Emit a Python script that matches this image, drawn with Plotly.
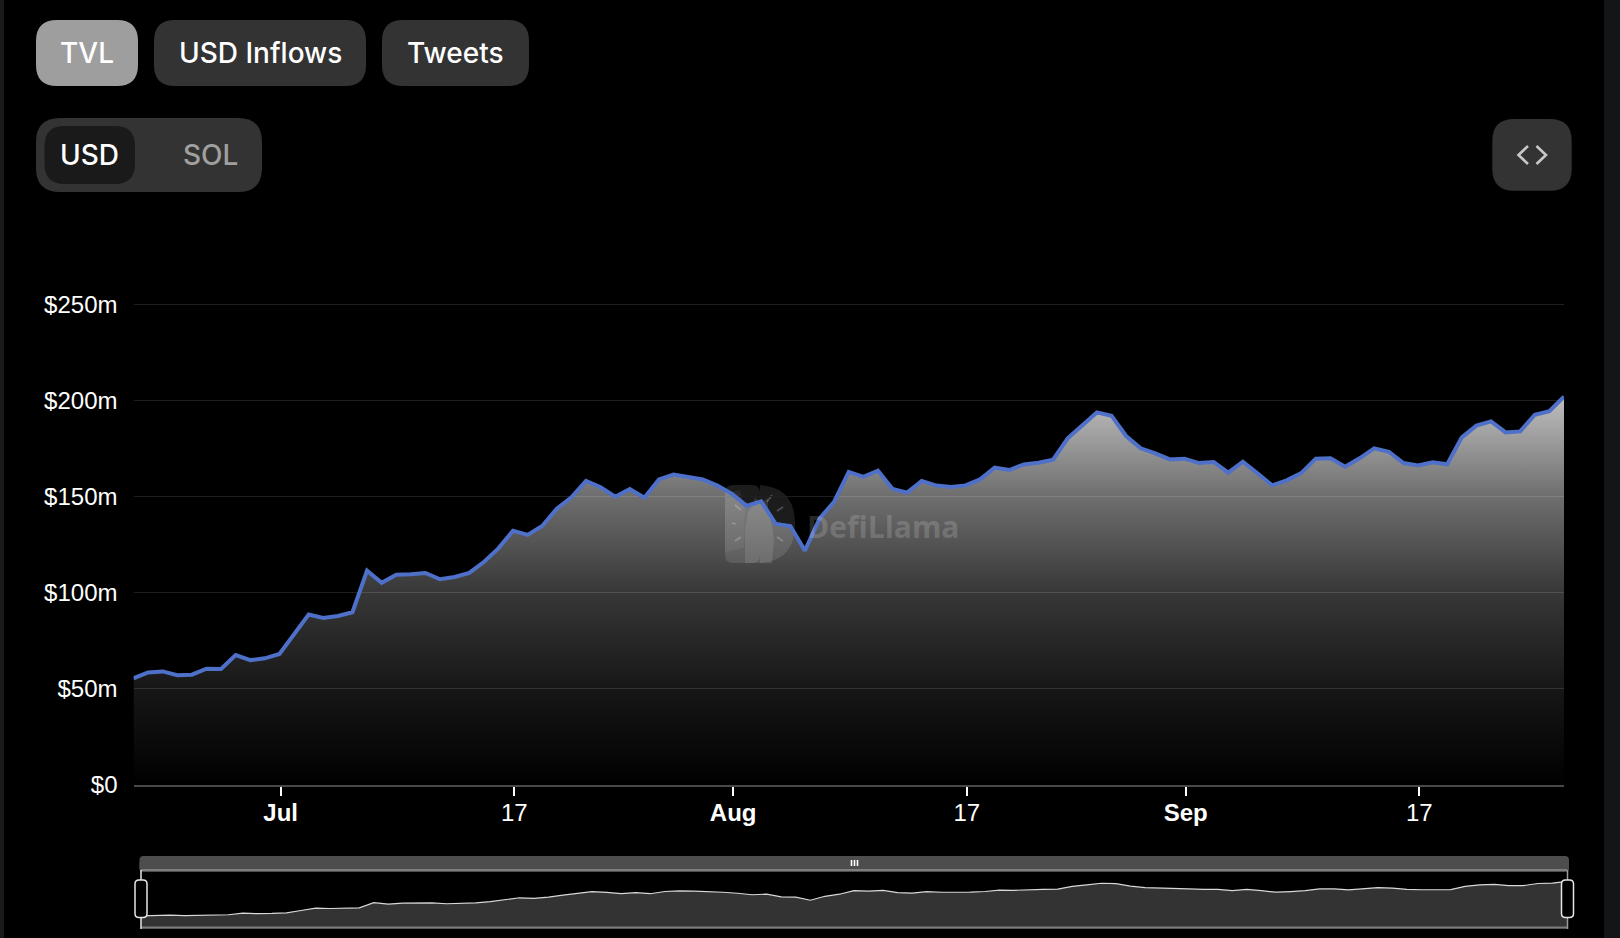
import pandas as pd
import plotly.graph_objects as go

W, H = 1620, 938

start_date = "2024-06-21"
tvl_musd = [
    55.4, 58.5, 59.0, 57.0, 57.3, 60.4, 60.3, 67.5, 64.9, 65.8,
    68.1, 78.5, 88.6, 86.8, 87.9, 89.8, 111.5, 105.2, 109.4, 109.6,
    110.3, 107.0, 108.2, 110.3, 116.0, 123.1, 132.3, 130.1, 134.7, 143.8,
    149.7, 158.2, 154.9, 150.0, 154.0, 149.5, 159.0, 161.5, 160.3, 159.0,
    155.8, 151.4, 145.2, 147.6, 135.8, 134.7, 121.9, 138.6, 147.4, 162.9,
    160.3, 163.6, 154.0, 152.1, 158.2, 155.8, 155.0, 155.9, 159.0, 165.1,
    163.9, 166.8, 167.7, 169.3, 180.4, 187.3, 193.9, 192.2, 181.6, 175.2,
    172.6, 169.4, 169.8, 167.5, 168.1, 162.5, 168.2, 162.2, 155.9, 158.5,
    162.3, 169.8, 170.0, 165.6, 170.0, 175.2, 173.4, 167.5, 166.3, 167.9,
    166.9, 180.9, 187.0, 189.2, 183.5, 184.0, 192.7, 194.5, 202.1,
]
dates = pd.date_range(start_date, periods=len(tvl_musd), freq="D")

y_ticks = [0, 50, 100, 150, 200, 250]
y_tick_labels = ["$0", "$50m", "$100m", "$150m", "$200m", "$250m"]
x_ticks = ["2024-07-01 02:00", "2024-07-17 02:00", "2024-08-01 02:00",
           "2024-08-17 02:00", "2024-09-01 02:00", "2024-09-17 02:00"]
x_tick_labels = ["<b>Jul</b>", "17", "<b>Aug</b>", "17", "<b>Sep</b>", "17"]


def px(x):
    return x / W


def py(y):
    return 1 - y / H


def rrect(x0, y0, x1, y1, r):
    """Rounded rectangle path in paper coordinates, given page pixels."""
    pts = [
        f"M{px(x0 + r)},{py(y0)}", f"L{px(x1 - r)},{py(y0)}",
        f"Q{px(x1)},{py(y0)} {px(x1)},{py(y0 + r)}", f"L{px(x1)},{py(y1 - r)}",
        f"Q{px(x1)},{py(y1)} {px(x1 - r)},{py(y1)}", f"L{px(x0 + r)},{py(y1)}",
        f"Q{px(x0)},{py(y1)} {px(x0)},{py(y1 - r)}", f"L{px(x0)},{py(y0 + r)}",
        f"Q{px(x0)},{py(y0)} {px(x0 + r)},{py(y0)}", "Z",
    ]
    return " ".join(pts)


def path(points, close=False):
    s = " ".join(("M" if i == 0 else "L") + f"{px(a)},{py(b)}" for i, (a, b) in enumerate(points))
    return s + (" Z" if close else "")


shapes, annos = [], []


def box(x0, y0, x1, y1, r, fill, line=None, lw=0, layer="above"):
    shapes.append(dict(type="path", path=rrect(x0, y0, x1, y1, r), xref="paper", yref="paper",
                       fillcolor=fill, line=dict(color=line or fill, width=lw), layer=layer))


def stroke(points, color, width, layer="above"):
    shapes.append(dict(type="path", path=path(points), xref="paper", yref="paper",
                       line=dict(color=color, width=width), layer=layer))


def label(x, y, text, size, color, family="Inter", anchor="center"):
    annos.append(dict(x=px(x), y=py(y), xref="paper", yref="paper", text=text, showarrow=False,
                      xanchor=anchor, yanchor="middle",
                      font=dict(family=family, size=size, color=color, weight=500)))


# side strips of the page
box(0, 0, 4, H, 0, "#1a1a1a")
box(1604, 0, W, H, 0, "#141516")

# buttons
box(36, 20, 138, 86, 21, "#9e9e9e")
box(154, 20, 366, 86, 21, "#333333")
box(382, 20, 529, 86, 21, "#333333")
label(87, 53, "TVL", 28, "#ffffff")
label(260, 53, "USD Inflows", 28, "#ffffff")
label(455.5, 53, "Tweets", 28, "#ffffff")
box(36, 118, 262, 192, 24, "#333333")
box(44.5, 126, 135, 184, 20, "#1a1a1a")
label(89.5, 155, "USD", 28, "#ffffff")
label(210.5, 155, "SOL", 28, "#a0a0a0")
box(1492.3, 119, 1571.7, 190.7, 22, "#333333")
stroke([(1528, 146), (1518.5, 155), (1528, 164)], "#c8c8c8", 2.6)
stroke([(1536.5, 146), (1546, 155), (1536.5, 164)], "#c8c8c8", 2.6)

# watermark (sits under the series, above the black page)
WM = "rgba(255,255,255,0.11)"
box(725, 485, 760, 563, 8, WM, layer="below")
shapes.append(dict(type="path", xref="paper", yref="paper", layer="below",
                   path=f"M{px(760)},{py(485)} Q{px(795)},{py(487)} {px(795)},{py(524)} "
                        f"Q{px(795)},{py(561)} {px(760)},{py(563)} Z",
                   fillcolor=WM, line=dict(width=0)))
shapes.append(dict(type="path", xref="paper", yref="paper", layer="below",
                   path=path([(725, 493), (740, 490), (745, 510), (744, 548), (725, 552)], True),
                   fillcolor="rgba(255,255,255,0.06)", line=dict(width=0)))
shapes.append(dict(type="path", xref="paper", yref="paper", layer="below",
                   path=path([(745, 563), (745, 530), (748, 512), (753, 505), (755, 497), (760, 504),
                              (768, 498), (768, 510), (772, 525), (774, 540), (772, 563)], True),
                   fillcolor="rgba(255,255,255,0.11)", line=dict(width=0)))
for seg in ([(735, 505), (741, 510)], [(732, 523), (736, 524)], [(735, 541), (741, 537)],
            [(777, 511), (783, 507)], [(777, 537), (783, 541)], [(767, 502), (772, 495)]):
    stroke(seg, "rgba(255,255,255,0.22)", 1.8, layer="below")
annos.append(dict(x=px(805), y=py(526.5), xref="paper", yref="paper", text="<b>DefiLlama</b>", showarrow=False,
                  xanchor="left", yanchor="middle",
                  font=dict(family="Open Sans", size=30, color="rgba(255,255,255,0.17)")))

# navigator chrome
box(139.5, 856, 1569, 872, 4, "#4d4d4d")
box(139.5, 862, 1569, 869.5, 0, "#4d4d4d")
stroke([(141, 870), (1567, 870)], "#7d7d7d", 2)
stroke([(141, 927.5), (1567, 927.5)], "#7d7d7d", 2)
for gx in (851.5, 854.5, 857.5):
    stroke([(gx, 860), (gx, 866)], "#ffffff", 1.6)
stroke([(141, 870), (141, 929)], "#e6e6e6", 1.5)
stroke([(1567.5, 870), (1567.5, 929)], "#9a9a9a", 1.5)
box(135, 880, 147, 917.5, 4, "#000000", "#e6e6e6", 1.5)
box(1561.5, 880, 1573.5, 917.5, 4, "#000000", "#e6e6e6", 1.5)

fig = go.Figure()
fig.add_trace(go.Scatter(
    x=dates, y=tvl_musd, mode="lines", xaxis="x", yaxis="y",
    line=dict(color="#4f70c8", width=4, shape="linear"),
    fill="tozeroy",
    fillgradient=dict(type="vertical", colorscale=[
        [0, "rgba(255,255,255,0.0)"], [0.25, "rgba(255,255,255,0.09)"],
        [0.5, "rgba(255,255,255,0.22)"], [0.75, "rgba(255,255,255,0.44)"],
        [1, "rgba(255,255,255,0.75)"]]),
    hoverinfo="skip", showlegend=False,
))
fig.add_trace(go.Scatter(
    x=dates, y=tvl_musd, mode="lines", xaxis="x2", yaxis="y2",
    line=dict(color="#d8d8d8", width=1.2), fill="tozeroy", fillcolor="#333333",
    hoverinfo="skip", showlegend=False,
))

y_top = 252
axis_base_px, px_per_unit = 784.7, 96 / 50

fig.update_layout(
    template="none",
    width=W, height=H, margin=dict(l=0, r=0, t=0, b=0, pad=0),
    paper_bgcolor="#000000", plot_bgcolor="#000000", autosize=False,
    font=dict(family="Liberation Sans", color="#ffffff"),
    shapes=shapes, annotations=annos,
    xaxis=dict(
        domain=[px(133.5), px(1564)], range=[dates[0], dates[-1]], type="date",
        tickmode="array", tickvals=x_ticks, ticktext=x_tick_labels,
        ticks="outside", ticklen=9, tickwidth=1.5, tickcolor="#ffffff",
        ticklabelstandoff=-4,
        tickfont=dict(size=24, color="#ffffff", family="Liberation Sans"),
        showgrid=False, showline=True, linecolor="#484848", linewidth=2, zeroline=False,
        anchor="y", fixedrange=True,
    ),
    yaxis=dict(
        domain=[py(axis_base_px), py(axis_base_px - y_top * px_per_unit)], range=[0, y_top],
        tickmode="array", tickvals=y_ticks, ticktext=y_tick_labels,
        ticks="", ticklabelstandoff=15,
        tickfont=dict(size=24, color="#ffffff", family="Liberation Sans"),
        showgrid=True, gridcolor="#1f1f1f", gridwidth=1.3, zeroline=False, showline=False,
        anchor="x", fixedrange=True,
    ),
    xaxis2=dict(domain=[px(141), px(1567)], range=[dates[0], dates[-1]], type="date", visible=False,
                anchor="y2", fixedrange=True),
    yaxis2=dict(domain=[py(929), py(870)], range=[0, 250], visible=False, anchor="x2", fixedrange=True),
)

fig.write_html("out.html", config={"displayModeBar": False},
               post_script="document.body.style.margin='0';document.body.style.background='#000';")
